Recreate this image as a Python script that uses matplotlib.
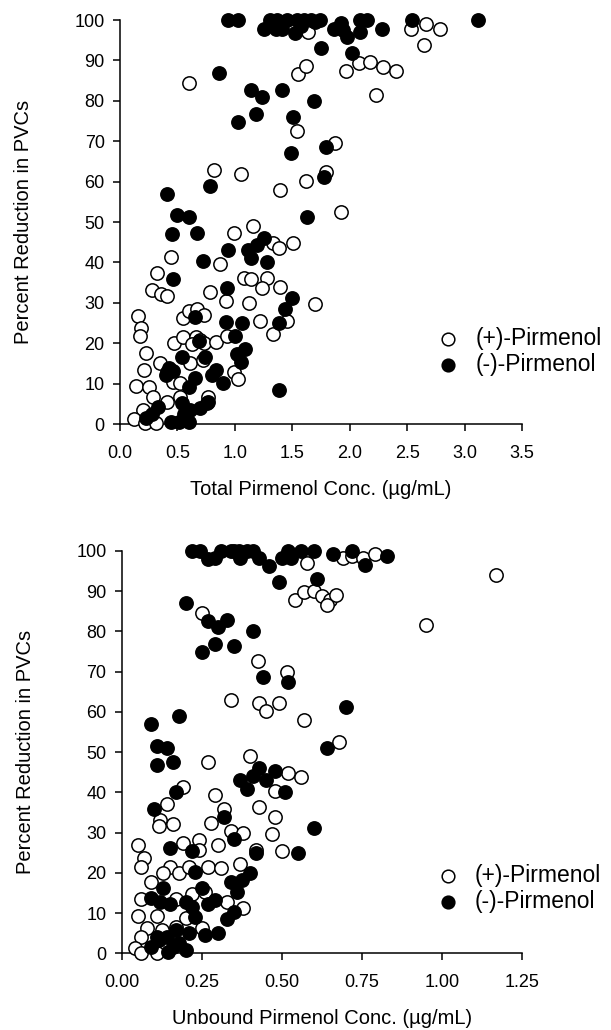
import matplotlib
matplotlib.use("Agg")
import matplotlib.pyplot as plt
import numpy as np

plt.rcParams["font.family"] = ["Liberation Sans", "DejaVu Sans"]

# ── Top panel: total concentration ─────────────────────────
top_plus_x = [0.60, 0.82, 1.05, 1.39, 1.62, 1.79, 1.92, 1.54, 1.55, 1.62, 1.64, 1.87, 2.53, 2.66,
              2.79, 2.65, 2.08, 2.18, 2.29, 2.40, 1.97, 2.23, 1.70,
              1.16, 0.99, 1.33, 1.38, 1.51, 0.87, 0.44, 0.32, 0.28, 0.36, 0.41, 0.78, 0.92, 1.12,
              1.08, 1.14, 1.28, 1.24, 1.39, 0.16, 0.18, 0.17, 0.23, 0.21, 0.14, 0.25, 0.29, 0.20,
              0.12, 0.22, 0.31, 0.35, 0.41, 0.46, 0.41, 0.52, 0.55, 0.60, 0.67, 0.73, 0.47, 0.55,
              0.66, 0.70, 0.73, 0.63, 0.61, 0.84, 0.93, 0.72, 0.99, 1.03, 1.22, 1.33, 1.45, 0.77,
              0.52]
top_plus_y = [84.5, 63.0, 62.0, 57.9, 60.1, 62.5, 52.4, 72.6, 86.6, 88.7, 97.0, 69.6, 97.9, 99.0,
              97.9, 93.8, 89.5, 89.7, 88.4, 87.5, 87.5, 81.4, 29.6,
              49.0, 47.4, 44.7, 43.7, 44.7, 39.5, 41.3, 37.3, 33.2, 32.1, 31.7, 32.6, 30.4, 29.9,
              36.1, 35.8, 36.2, 33.7, 34.0, 26.7, 23.8, 21.8, 17.5, 13.5, 9.4, 9.2, 6.6, 3.6,
              1.2, 0.2, 0.2, 15.0, 13.0, 10.5, 5.5, 6.8, 26.2, 27.9, 28.5, 27.0, 20.1, 21.5,
              21.6, 20.8, 20.0, 19.7, 15.0, 20.2, 21.8, 15.8, 13.0, 11.1, 25.6, 22.2, 25.6, 6.8,
              10.2]

top_minus_x = [0.94, 1.03, 1.31, 1.45, 1.54, 1.60, 1.66, 1.74, 1.25, 1.36, 1.41, 1.52, 1.58, 1.70,
               1.86, 1.92, 1.98, 2.09, 2.15, 2.09, 2.28, 2.54, 3.12, 1.37, 1.94,
               1.75, 2.02, 0.86, 1.14, 1.24, 1.41, 1.69, 1.03, 1.18, 1.51, 1.49, 1.79, 1.78, 0.785,
               0.41, 0.50, 0.60, 1.63, 0.45, 0.67, 0.72, 0.94, 1.11, 1.19, 1.25, 1.14, 1.28, 0.46,
               0.93, 0.65, 0.92, 1.06, 1.50, 1.44, 1.38, 0.69, 1.00, 1.09, 1.02, 1.05, 0.54, 0.74,
               0.43, 0.46, 0.40, 0.84, 0.80, 0.90, 0.65, 0.60, 1.38, 0.54, 0.61, 0.56, 0.76, 0.70,
               0.33, 0.28, 0.23, 0.44, 0.51, 0.60, 0.77]
top_minus_y = [100, 100, 100, 100, 100, 100, 100, 100, 97.9, 97.9, 97.9, 96.7, 98.5, 99.5,
               97.9, 99.2, 95.9, 100, 100, 97.1, 97.9, 100, 100, 100, 97.6,
               93.0, 91.8, 87.0, 82.7, 81.0, 82.7, 80.0, 74.7, 76.7, 76.1, 67.2, 68.5, 61.1, 58.9,
               56.9, 51.7, 51.3, 51.3, 47.0, 47.4, 40.3, 43.1, 43.2, 44.3, 46.0, 41.0, 40.2, 35.9,
               33.8, 26.4, 25.3, 25.1, 31.1, 28.6, 25.1, 20.5, 21.7, 18.6, 17.3, 15.3, 16.7, 16.5,
               13.8, 13.2, 12.1, 13.4, 12.1, 10.2, 11.3, 9.2, 8.4, 5.1, 3.5, 2.6, 5.1, 3.9,
               4.3, 2.6, 1.4, 0.6, 0.6, 0.6, 5.5]

# ── Bottom panel: unbound concentration ────────────────────
bot_plus_x = [0.58, 0.69, 0.72, 0.755, 0.79, 0.54, 0.57, 0.60, 0.625, 0.65, 0.67, 0.64, 0.25, 1.17,
              0.95, 0.425, 0.515, 0.34, 0.43, 0.45, 0.49, 0.57, 0.68, 0.56,
              0.40, 0.27, 0.52, 0.48, 0.29, 0.19, 0.14, 0.12, 0.115, 0.16, 0.28, 0.32, 0.43, 0.48,
              0.34, 0.38, 0.30, 0.47, 0.50, 0.42, 0.19, 0.24, 0.24, 0.05, 0.07, 0.06, 0.15, 0.18,
              0.13, 0.21, 0.27, 0.31, 0.37, 0.09, 0.06, 0.22, 0.26, 0.33, 0.38, 0.05, 0.11, 0.17,
              0.20, 0.08, 0.25, 0.17, 0.125, 0.06, 0.04, 0.06, 0.11]
bot_plus_y = [97.0, 98.3, 98.7, 98.3, 99.3, 87.9, 89.7, 90.0, 88.7, 87.9, 89.1, 86.6, 84.7, 94.1,
              81.7, 72.7, 69.8, 63.0, 62.2, 60.3, 62.2, 58.0, 52.5, 43.9,
              49.1, 47.5, 44.8, 40.4, 39.4, 41.3, 37.1, 33.2, 31.7, 32.1, 32.5, 35.8, 36.3, 33.8,
              30.4, 29.8, 26.9, 29.6, 25.5, 25.7, 27.5, 28.2, 25.7, 26.8, 23.8, 21.5, 21.4, 19.9,
              20.0, 21.5, 21.5, 21.1, 22.1, 17.6, 13.4, 14.7, 15.3, 12.8, 11.2, 9.3, 9.3, 13.4,
              8.7, 6.2, 6.4, 6.6, 5.8, 4.1, 1.2, 0.0, 0.0]

bot_minus_x = [0.22, 0.245, 0.31, 0.34, 0.365, 0.39, 0.41, 0.52, 0.56, 0.60, 0.72, 0.66, 0.83, 0.76,
               0.29, 0.37, 0.43, 0.50, 0.53, 0.46, 0.49, 0.61, 0.35, 0.27,
               0.20, 0.27, 0.30, 0.33, 0.41, 0.25, 0.29, 0.35, 0.44, 0.52, 0.70, 0.64, 0.60, 0.55,
               0.09, 0.18, 0.11, 0.14, 0.11, 0.16, 0.17, 0.10, 0.37, 0.39, 0.41, 0.43, 0.45, 0.48,
               0.51, 0.32, 0.35, 0.15, 0.22, 0.23, 0.42, 0.40, 0.375, 0.34, 0.36, 0.13, 0.09, 0.12,
               0.15, 0.20, 0.22, 0.23, 0.25, 0.27, 0.29, 0.35, 0.33, 0.30, 0.26, 0.17, 0.21, 0.11,
               0.14, 0.09, 0.115, 0.16, 0.18, 0.20, 0.145]
bot_minus_y = [100, 100, 100, 100, 100, 100, 100, 100, 100, 100, 100, 99.3, 98.7, 96.6,
               98.2, 98.2, 98.2, 98.2, 98.2, 96.2, 92.2, 93.0, 100, 98.0,
               87.1, 82.7, 81.2, 82.9, 80.2, 74.8, 76.9, 76.3, 68.6, 67.4, 61.1, 51.0, 31.1, 25.0,
               57.0, 58.9, 51.6, 51.1, 46.7, 47.5, 40.2, 35.8, 43.1, 40.9, 44.0, 46.0, 43.1, 45.2,
               40.0, 33.8, 28.4, 26.1, 25.3, 20.3, 25.0, 20.0, 18.2, 17.6, 15.3, 16.3, 13.7, 12.8,
               12.2, 12.8, 11.6, 9.1, 16.2, 12.3, 13.3, 10.3, 8.5, 5.1, 4.6, 5.8, 5.1, 4.1,
               4.1, 1.6, 3.2, 1.6, 2.5, 0.8, 0.4]

SERIES_LABELS = ["(+)-Pirmenol", "(-)-Pirmenol"]
Y_LABEL = "Percent Reduction in PVCs"
Y_TICKS = list(range(0, 101, 10))
TOP_XTICKS = [0.0, 0.5, 1.0, 1.5, 2.0, 2.5, 3.0, 3.5]
BOT_XTICKS = [0.00, 0.25, 0.50, 0.75, 1.00, 1.25]

MS = 92  # marker area (pt^2)


def draw_panel(ax, px, py, mx, my, xticks, xfmt, xlabel, leg_anchor):
    ax.scatter(px, py, s=MS, facecolor="white", edgecolor="black",
               linewidth=1.1, clip_on=False, zorder=3, label=SERIES_LABELS[0])
    ax.scatter(mx, my, s=MS, facecolor="black", edgecolor="black",
               linewidth=1.1, clip_on=False, zorder=4, label=SERIES_LABELS[1])
    ax.set_xlim(xticks[0], xticks[-1])
    ax.set_ylim(0, 100)
    ax.set_xticks(xticks)
    ax.set_xticklabels([xfmt.format(v) for v in xticks])
    ax.set_yticks(Y_TICKS)
    ax.spines["top"].set_visible(False)
    ax.spines["right"].set_visible(False)
    for s in ("left", "bottom"):
        ax.spines[s].set_linewidth(1.1)
    ax.tick_params(direction="out", length=5, width=1.1, labelsize=13)
    ax.tick_params(axis="x", pad=10)
    ax.tick_params(axis="y", pad=6)
    ax.set_ylabel(Y_LABEL, fontsize=14.5, labelpad=30)
    ax.set_xlabel(xlabel, fontsize=14.5, labelpad=13)
    ax.legend(loc="center left", bbox_to_anchor=leg_anchor, frameon=False,
              fontsize=16.5, handletextpad=0.58, labelspacing=0.15,
              markerscale=0.95, borderaxespad=0, borderpad=0, handlelength=1.2)


fig = plt.figure(figsize=(6.11, 10.30), dpi=100)
ax1 = fig.add_axes([0.1964, 0.5883, 0.658, 0.3922])
ax2 = fig.add_axes([0.1992, 0.0745, 0.6547, 0.3906])

draw_panel(ax1, top_plus_x, top_plus_y, top_minus_x, top_minus_y,
           TOP_XTICKS, "{:.1f}", "Total Pirmenol Conc. (\u00b5g/mL)", (0.782, 0.1795))
draw_panel(ax2, bot_plus_x, bot_plus_y, bot_minus_x, bot_minus_y,
           BOT_XTICKS, "{:.2f}", "Unbound Pirmenol Conc. (\u00b5g/mL)", (0.7815, 0.1607))

fig.savefig("out.png", dpi=100)
